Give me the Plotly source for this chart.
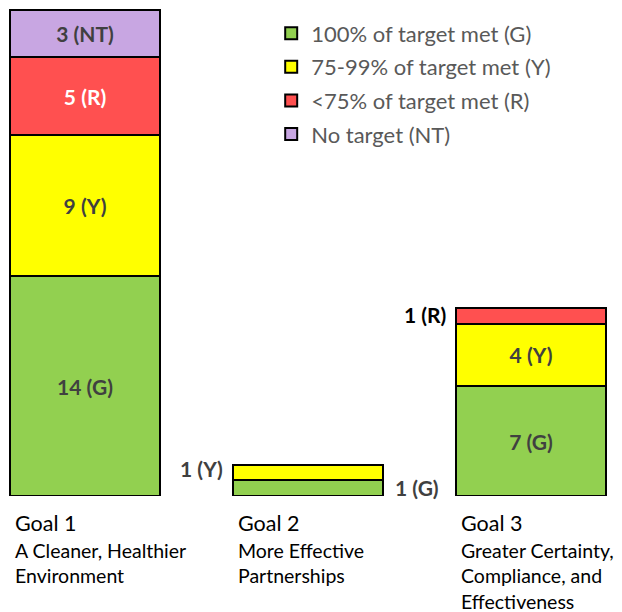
import plotly.graph_objects as go

# Goals along the x axis and their descriptive subtitles
goals = ["Goal 1", "Goal 2", "Goal 3"]
subtitles = [
    "A Cleaner, Healthier<br>Environment",
    "More Effective<br>Partnerships",
    "Greater Certainty,<br>Compliance, and<br>Effectiveness",
]

# Count of measures per status, stacked bottom to top
green = [14, 1, 7]
yellow = [9, 1, 4]
red = [5, 0, 1]
no_target = [3, 0, 0]

series = [
    ("100% of target met (G)", "G", green, "#92D050", "#404040"),
    ("75-99% of target met (Y)", "Y", yellow, "#FFFF00", "#404040"),
    ("<75% of target met (R)", "R", red, "#FF5050", "#FFFFFF"),
    ("No target (NT)", "NT", no_target, "#C8A6E2", "#404040"),
]

FONT = "Lato"
LBL = 21
BAR_W = 0.67
xs = list(range(len(goals)))

fig = go.Figure()
for name, code, vals, color, tcolor in series:
    # Segments that are tall enough carry their label inside
    labels = [f"{v} ({code})" if v >= 3 else "" for v in vals]
    fig.add_trace(go.Bar(
        x=xs, y=vals, name=name, width=BAR_W,
        marker=dict(color=color, line=dict(color="black", width=2)),
        text=labels, textposition="inside", insidetextanchor="middle",
        textfont=dict(family=FONT, size=LBL, color=tcolor, weight="bold"),
        textangle=0, cliponaxis=False, legendgroup=code,
        hoverinfo="skip",
    ))

annotations = []
# Small segments are labelled beside the bar
annotations.append(dict(x=1 - BAR_W / 2, y=green[1] + yellow[1] / 2, text=f"{yellow[1]} (Y)",
                        xanchor="right", xshift=-8, yshift=4, showarrow=False,
                        font=dict(family=FONT, size=LBL, color="#404040", weight="bold")))
annotations.append(dict(x=1 + BAR_W / 2, y=green[1] / 2, text=f"{green[1]} (G)",
                        xanchor="left", xshift=10, yshift=1, showarrow=False,
                        font=dict(family=FONT, size=LBL, color="#404040", weight="bold")))
annotations.append(dict(x=2 - BAR_W / 2, y=green[2] + yellow[2] + red[2] / 2, text=f"{red[2]} (R)",
                        xanchor="right", xshift=-8, yshift=1, showarrow=False,
                        font=dict(family=FONT, size=LBL, color="black", weight="bold")))

# Goal names and subtitles beneath each bar
for i, (g, s) in enumerate(zip(goals, subtitles)):
    annotations.append(dict(x=i - BAR_W / 2, y=0, xref="x", yref="y", text=g,
                            xanchor="left", yanchor="top", xshift=3, yshift=-12,
                            showarrow=False, align="left",
                            font=dict(family=FONT, size=21.5, color="black")))
    annotations.append(dict(x=i - BAR_W / 2, y=0, xref="x", yref="y", text=s,
                            xanchor="left", yanchor="top", xshift=3, yshift=-41,
                            showarrow=False, align="left",
                            font=dict(family=FONT, size=19.5, color="black")))

fig.update_layout(
    width=622, height=612,
    margin=dict(l=0, r=0, t=0, b=116),
    paper_bgcolor="white", plot_bgcolor="white",
    barmode="stack",
    xaxis=dict(range=[-85 / 223, 537 / 223], visible=False, fixedrange=True),
    yaxis=dict(range=[0, 496 / 15.68], visible=False, fixedrange=True),
    showlegend=True,
    legend=dict(x=0.436, y=0.975, xanchor="left", yanchor="top",
                traceorder="grouped", tracegroupgap=2,
                font=dict(family=FONT, size=22, color="#595959"),
                bgcolor="rgba(0,0,0,0)"),
    annotations=annotations,
    uniformtext=dict(mode=False),
)

fig.write_html("out.html")
